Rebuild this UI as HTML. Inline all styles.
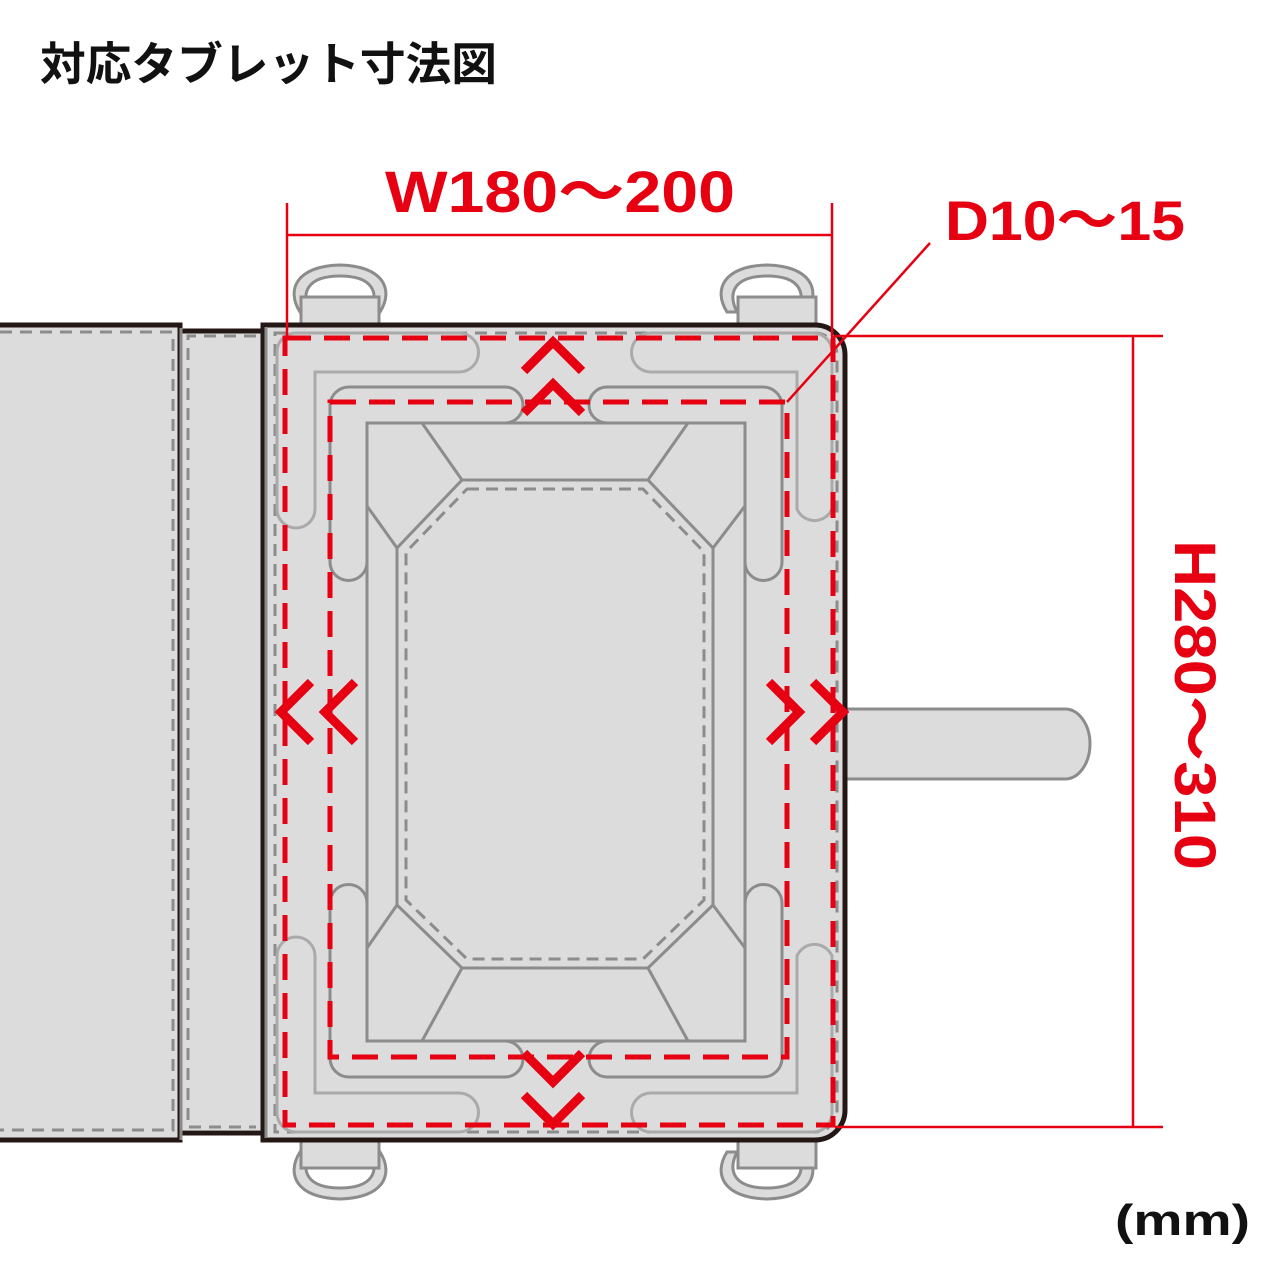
<!DOCTYPE html>
<html><head><meta charset="utf-8"><style>
html,body{margin:0;padding:0;background:#fff;width:1280px;height:1280px;overflow:hidden}
svg{display:block}
</style></head><body>
<svg width="1280" height="1280" viewBox="0 0 1280 1280" xmlns="http://www.w3.org/2000/svg">
<text x="40" y="80" font-family="'Liberation Sans','Noto Sans CJK JP',sans-serif" font-size="45.5" font-weight="bold" fill="#111" textLength="457" lengthAdjust="spacingAndGlyphs">対応タブレット寸法図</text>

<!-- D-rings -->
<g fill="#dcdcdc" stroke="#8c8c8c" stroke-width="3">
 <path d="M300,312 C286,290 296,266 340,265 C384,266 394,290 380,312 L370,312 C380,292 372,276 340,276 C308,276 300,292 310,312 Z"/>
 <rect x="301" y="297" width="78" height="28"/>
 <path d="M727,312 C713,290 723,266 767,265 C811,266 821,290 807,312 L797,312 C807,292 799,276 767,276 C735,276 727,292 737,312 Z"/>
 <rect x="738" y="297" width="78" height="28"/>
 <path d="M300,1152 C286,1174 296,1198 340,1199 C384,1198 394,1174 380,1152 L370,1152 C380,1172 372,1188 340,1188 C308,1188 300,1172 310,1152 Z"/>
 <rect x="301" y="1140" width="78" height="28"/>
 <path d="M727,1152 C713,1174 723,1198 767,1199 C811,1198 821,1174 807,1152 L797,1152 C807,1172 799,1188 767,1188 C735,1188 727,1172 737,1152 Z"/>
 <rect x="738" y="1140" width="78" height="28"/>
</g>

<!-- handle -->
<path d="M840,709 L1065,709 A25,35 0 0 1 1065,779 L840,779 Z" fill="#dcdcdc" stroke="#8c8c8c" stroke-width="3"/>

<!-- left panels -->
<rect x="-5" y="325" width="185" height="815" fill="#dcdcdc" stroke="#231815" stroke-width="5"/>
<rect x="181" y="330" width="82" height="800" fill="#dcdcdc"/>
<line x1="181" y1="331" x2="264" y2="331" stroke="#231815" stroke-width="5"/>
<line x1="181" y1="1133" x2="264" y2="1133" stroke="#231815" stroke-width="5"/>
<line x1="181" y1="328" x2="181" y2="1140" stroke="#8c8c8c" stroke-width="3"/>
<g fill="none" stroke="#8c8c8c" stroke-width="3" stroke-dasharray="12,8">
 <path d="M0,332 L173,332 L173,1130 L0,1130"/>
 <path d="M256,336 L188,336 L188,1127 L256,1127"/>
</g>

<!-- main panel -->
<path d="M263,325 L815,325 A30,30 0 0 1 845,355 L845,1110 A30,30 0 0 1 815,1140 L263,1140 Z" fill="#dcdcdc" stroke="#231815" stroke-width="5"/>
<line x1="266" y1="327" x2="266" y2="1138" stroke="#8c8c8c" stroke-width="3"/>
<path d="M275,333 L815,333 A22,22 0 0 1 837,355 L837,1110 A22,22 0 0 1 815,1132 L275,1132 Z" fill="none" stroke="#8c8c8c" stroke-width="3" stroke-dasharray="12,8"/>

<!-- outer light L shapes -->
<g fill="#dcdcdc" stroke="#aaa" stroke-width="3">
 <path d="M277,352 A19,19 0 0 1 296,333 L459,333 A19,19 0 0 1 459,372 L315,372 L315,509 A19,19 0 0 1 277,509 Z"/>
 <path d="M832,352 A19,19 0 0 0 813,333 L651,333 A19,19 0 0 0 651,372 L797,372 L797,509 A19,19 0 0 0 832,509 Z"/>
 <path d="M277,1113 A19,19 0 0 0 296,1132 L459,1132 A19,19 0 0 0 459,1093 L315,1093 L315,956 A19,19 0 0 0 277,956 Z"/>
 <path d="M832,1113 A19,19 0 0 1 813,1132 L651,1132 A19,19 0 0 1 651,1093 L797,1093 L797,956 A19,19 0 0 1 832,956 Z"/>
</g>
<!-- inner dark L shapes and frame -->
<g fill="#dcdcdc" stroke="#8c8c8c" stroke-width="3">
 <path d="M330,405 A19,19 0 0 1 349,387 L505,387 A18,18 0 0 1 505,423 L367,423 L367,562 A18,18 0 0 1 330,562 Z"/>
 <path d="M782,405 A19,19 0 0 0 763,387 L607,387 A18,18 0 0 0 607,423 L745,423 L745,562 A18,18 0 0 0 782,562 Z"/>
 <path d="M330,1059 A19,19 0 0 0 349,1077 L505,1077 A18,18 0 0 0 505,1041 L367,1041 L367,903 A18,18 0 0 0 330,903 Z"/>
 <path d="M782,1059 A19,19 0 0 1 763,1077 L607,1077 A18,18 0 0 1 607,1041 L745,1041 L745,903 A18,18 0 0 1 782,903 Z"/>
</g>
<g fill="none" stroke="#8c8c8c" stroke-width="3">
 <line x1="505" y1="423" x2="607" y2="423"/>
 <line x1="505" y1="1041" x2="607" y2="1041"/>
 <line x1="367" y1="562" x2="367" y2="903"/>
 <line x1="745" y1="562" x2="745" y2="903"/>
 <path d="M462,480 L648,480 L713,548 L713,905 L648,968 L462,968 L397,905 L397,548 Z"/>
 <line x1="422" y1="423" x2="462" y2="480"/><line x1="367" y1="506" x2="397" y2="548"/>
 <line x1="688" y1="423" x2="648" y2="480"/><line x1="745" y1="506" x2="713" y2="548"/>
 <line x1="422" y1="1041" x2="462" y2="968"/><line x1="367" y1="948" x2="397" y2="905"/>
 <line x1="688" y1="1041" x2="648" y2="968"/><line x1="745" y1="948" x2="713" y2="905"/>
 <path d="M467,489 L643,489 L704,552 L704,900 L643,959 L467,959 L406,900 L406,552 Z" stroke-dasharray="12,7"/>
</g>

<!-- red dashed outlines -->
<g fill="none" stroke="#e60012" stroke-width="5" stroke-dasharray="26,13">
 <rect x="285" y="338" width="548" height="787"/>
 <rect x="330" y="402" width="457" height="655"/>
</g>
<!-- chevrons -->
<g fill="none" stroke="#e60012" stroke-width="9">
 <polyline points="524,371 553,342 582,371"/>
 <polyline points="524,413 553,384 582,413"/>
 <polyline points="524,1053 553,1082 582,1053"/>
 <polyline points="524,1095 553,1124 582,1095"/>
 <polyline points="311,682 281,712 311,742"/>
 <polyline points="355,682 325,712 355,742"/>
 <polyline points="769,682 799,712 769,742"/>
 <polyline points="813,682 843,712 813,742"/>
</g>

<!-- dimension lines -->
<g stroke="#e60012" stroke-width="2.5" fill="none">
 <line x1="287" y1="203" x2="287" y2="340"/>
 <line x1="832" y1="203" x2="832" y2="336"/>
 <line x1="287" y1="235" x2="832" y2="235"/>
 <line x1="930" y1="243" x2="787" y2="402"/>
 <line x1="835" y1="336" x2="1163" y2="336"/>
 <line x1="835" y1="1127" x2="1163" y2="1127"/>
 <line x1="1133" y1="336" x2="1133" y2="1127"/>
</g>
<g font-family="'Liberation Sans','Noto Sans CJK JP',sans-serif" font-weight="bold" fill="#e60012">
 <text x="385" y="212" font-size="58" textLength="350" lengthAdjust="spacingAndGlyphs">W180〜200</text>
 <text x="945" y="240" font-size="56" textLength="240" lengthAdjust="spacingAndGlyphs">D10〜15</text>
 <text transform="translate(1175,540) rotate(90)" font-size="58" textLength="330" lengthAdjust="spacingAndGlyphs">H280〜310</text>
</g>
<text x="1115" y="1235" font-family="'Liberation Sans','Noto Sans CJK JP',sans-serif" font-size="44" font-weight="bold" fill="#111" textLength="135" lengthAdjust="spacingAndGlyphs">(mm)</text>
</svg>
</body></html>
